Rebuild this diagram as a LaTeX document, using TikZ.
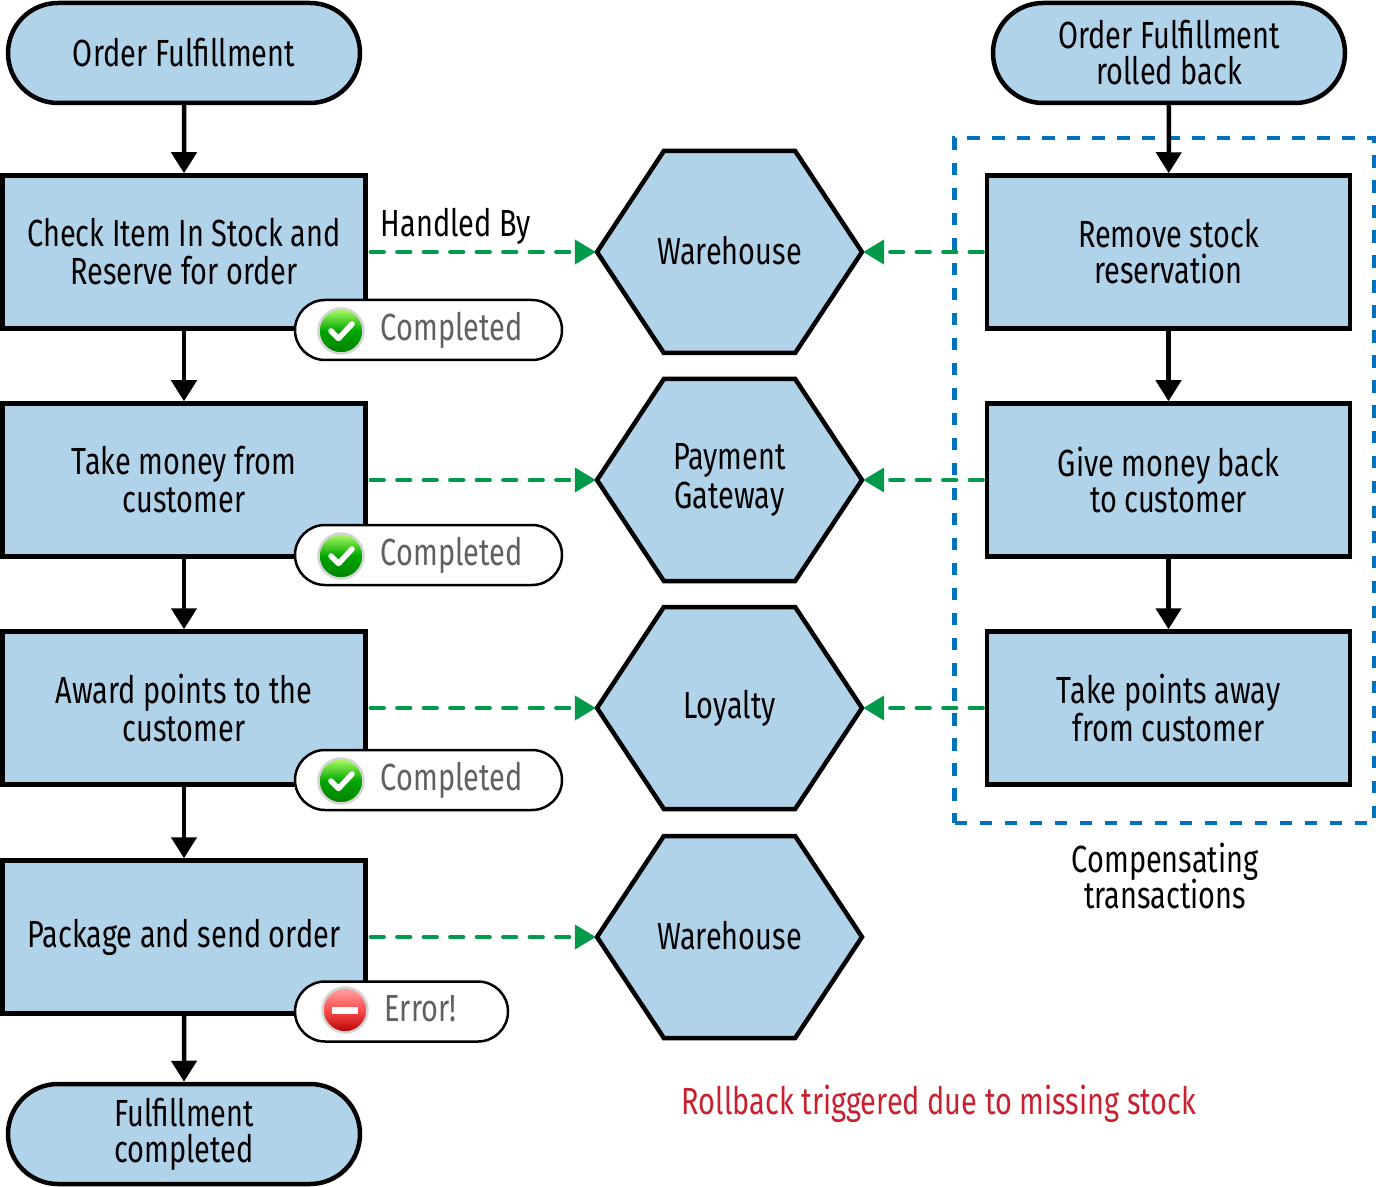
\documentclass[tikz,border=0pt]{standalone}
\usepackage{fontspec}
\setmainfont{Fira Sans}[FakeStretch=0.765]
\usepackage{xcolor}
\definecolor{flowblue}{HTML}{B0D3EA}
\definecolor{handgreen}{HTML}{009A4A}
\definecolor{compblue}{HTML}{0072BC}
\definecolor{rollred}{HTML}{C8202F}
\definecolor{pillgray}{HTML}{606060}
\usetikzlibrary{positioning,arrows.meta,shapes.misc,shapes.symbols,calc}
\newcommand{\hexlabel}[1]{\raisebox{0.06cm}{\makebox[0pt]{#1}}}

\begin{document}
\begin{tikzpicture}[
  font=\fontsize{21.5}{20.5}\selectfont,
  term/.style={draw=black, line width=0.09cm, rounded rectangle, fill=flowblue, align=center, minimum width=7.04cm, minimum height=2cm, inner sep=0pt},
  box/.style={draw=black, line width=0.09cm, fill=flowblue, align=center, minimum width=7.26cm, minimum height=3.06cm, inner sep=0pt},
  hexa/.style={draw=black, line width=0.09cm, fill=flowblue, align=center, signal, signal to=east and west, signal pointer angle=113, minimum width=5.3cm, minimum height=4.04cm, inner sep=0pt},
  pill/.style={draw=black, line width=0.05cm, rounded rectangle, fill=white, minimum height=1.2cm, inner sep=0pt},
  pilltxt/.style={text=pillgray, inner sep=0pt},
  okicon/.style={circle, draw=black!17, line width=0.05cm, minimum size=0.9cm, inner sep=0pt, top color=green!35!lime!60!white, bottom color=green!50!black, middle color=green!65!black,
    path picture={\draw[white, line width=0.11cm, line cap=round, line join=round, shift={(path picture bounding box.center)}] (-0.2,0) -- (-0.05,-0.15) -- (0.22,0.14);}},
  erricon/.style={circle, draw=black!17, line width=0.05cm, minimum size=0.9cm, inner sep=0pt, top color=red!35!white, bottom color=red!70!black, middle color=red!70!white,
    path picture={\fill[white, shift={(path picture bounding box.center)}] (-0.26,-0.07) rectangle (0.26,0.07);}},
  arr/.style={-{Triangle[length=0.42cm,width=0.5cm]}, line width=0.09cm},
  hand/.style={-{Triangle[length=0.42cm,width=0.48cm]}, line width=0.085cm, color=handgreen, line cap=round, dash pattern=on 0.26cm off 0.27cm, shorten >=-0.03cm},
]
  \useasboundingbox (0,0) rectangle (27.52,-23.74);
  % Order lane
  \node[term] (start) at (3.68,-1.06) {Order Fulfillment};
  \node[box] (stock) at (3.68,-5.04) {Check Item In Stock and\\[0.04cm]Reserve for order};
  \node[box] (money) at (3.68,-9.6) {Take money from\\[0.04cm]customer};
  \node[box] (points) at (3.68,-14.16) {Award points to the\\[0.04cm]customer};
  \node[box] (send) at (3.68,-18.74) {Package and send order};
  \node[term] (done) at (3.68,-22.68) {Fulfillment\\completed};
  \draw[arr] (start) -- (stock);
  \draw[arr] (stock) -- (money);
  \draw[arr] (money) -- (points);
  \draw[arr] (points) -- (send);
  \draw[arr] (send) -- (done);
  % Services
  \node[hexa] (wh1) at (14.59,-5.04) {\hexlabel{Warehouse}};
  \node[hexa] (gate) at (14.59,-9.6) {Payment\\[0.05cm]Gateway};
  \node[hexa] (loyal) at (14.59,-14.16) {Loyalty};
  \node[hexa] (wh2) at (14.59,-18.74) {\hexlabel{Warehouse}};
  % Compensating lane
  \node[draw=compblue, line width=0.09cm, dash pattern=on 0.25cm off 0.25cm, minimum width=8.4cm, minimum height=13.7cm] (comp) at (23.29,-9.61) {};
  \node[term] (back) at (23.38,-1.06) {Order Fulfillment\\rolled back};
  \node[box] (unstock) at (23.37,-5.04) {Remove stock\\reservation};
  \node[box] (refund) at (23.37,-9.6) {Give money back\\to customer};
  \node[box] (unpoints) at (23.37,-14.16) {Take points away\\from customer};
  \draw[arr] (back) -- (unstock);
  \draw[arr] (unstock) -- (refund);
  \draw[arr] (refund) -- (unpoints);
  \node[align=center, inner sep=0pt] (complab) at (23.3,-17.52) {Compensating\\[-0.06cm]transactions};
  % Handled by
  \draw[hand] ([xshift=0.06cm]stock.east) -- (wh1.west);
  \draw[hand] ([xshift=0.06cm]money.east) -- (gate.west);
  \draw[hand] ([xshift=0.06cm]points.east) -- (loyal.west);
  \draw[hand] ([xshift=0.06cm]send.east) -- (wh2.west);
  \draw[hand] ([xshift=-0.04cm]unstock.west) -- (wh1.east);
  \draw[hand] ([xshift=-0.04cm]refund.west) -- (gate.east);
  \draw[hand] ([xshift=-0.04cm]unpoints.west) -- (loyal.east);
  \node[inner sep=0pt] (handled) at (9.12,-4.53) {Handled By};
  % Status pills
  \node[pill, minimum width=5.34cm] (pill1) at (8.57,-6.6) {};
  \node[okicon] (ok1) at (6.82,-6.62) {};
  \node[pilltxt] (txt1) at (9.03,-6.6) {Completed};
  \node[pill, minimum width=5.34cm] (pill2) at (8.57,-11.1) {};
  \node[okicon] (ok2) at (6.82,-11.12) {};
  \node[pilltxt] (txt2) at (9.03,-11.1) {Completed};
  \node[pill, minimum width=5.34cm] (pill3) at (8.57,-15.6) {};
  \node[okicon] (ok3) at (6.82,-15.62) {};
  \node[pilltxt] (txt3) at (9.03,-15.6) {Completed};
  \node[pill, minimum width=4.26cm] (pill4) at (8.03,-20.23) {};
  \node[erricon] (err) at (6.9,-20.2) {};
  \node[pilltxt] (txt4) at (8.41,-20.18) {Error!};
  \node[text=rollred, inner sep=0pt] (rollback) at (18.78,-22.07) {Rollback triggered due to missing stock};
\end{tikzpicture}
\end{document}
